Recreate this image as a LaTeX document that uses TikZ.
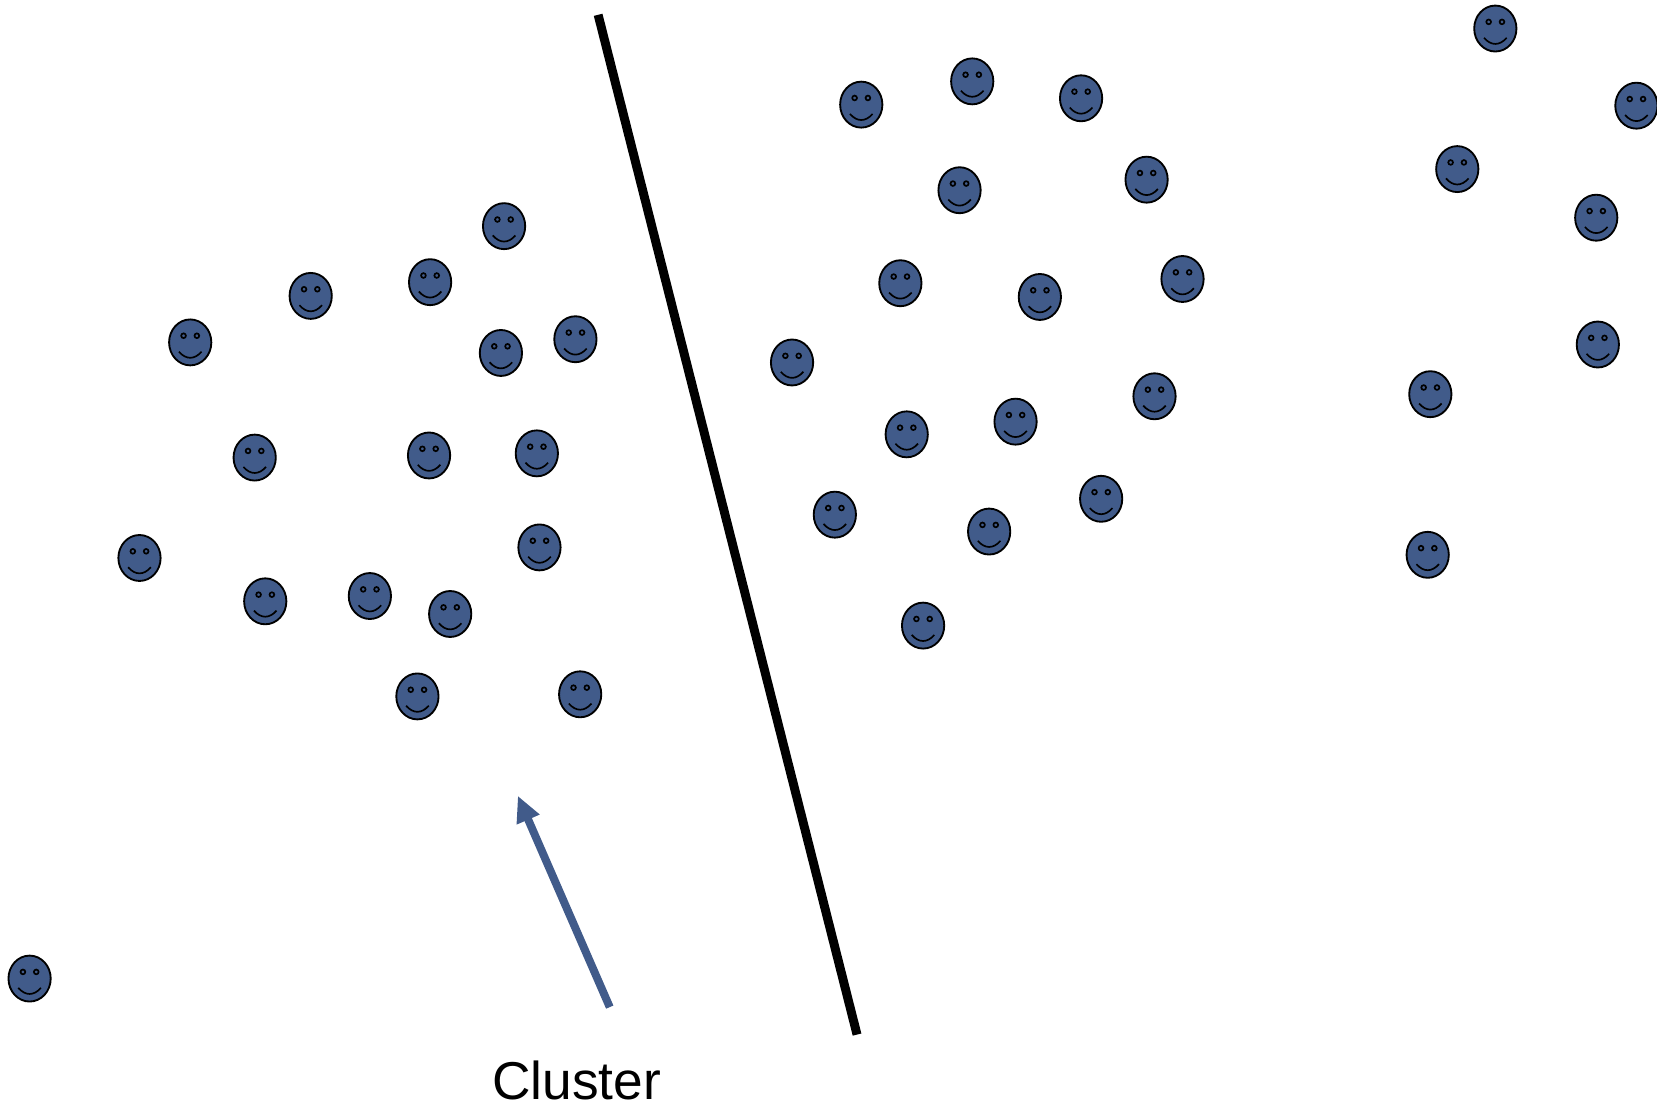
\documentclass[tikz,border=0pt]{standalone}
\usepackage{fontspec}
\setmainfont{Liberation Sans}
\usetikzlibrary{shapes.geometric}
\usetikzlibrary{arrows.meta}
\definecolor{faceblue}{HTML}{415B8A}

\begin{document}
\begin{tikzpicture}[x=0.02cm,y=-0.02cm,>={Triangle[length=14pt,width=12.5pt]},
	       face/.style={ellipse, fill = faceblue, draw, line width = 1pt, inner sep = 0pt,
	       minimum width = 0.8cm, minimum height = 0.87cm,
	       path picture={
	         \draw[line width = 0.9pt] ([xshift=-0.126cm,yshift=0.126cm]path picture bounding box.center) circle (0.045cm);
	         \draw[line width = 0.9pt] ([xshift=0.126cm,yshift=0.126cm]path picture bounding box.center) circle (0.045cm);
	         \draw[line width = 0.9pt] ([xshift=-0.214cm,yshift=-0.176cm]path picture bounding box.center)
	           .. controls ([xshift=-0.08cm,yshift=-0.33cm]path picture bounding box.center) and ([xshift=0.08cm,yshift=-0.33cm]path picture bounding box.center)
	           .. ([xshift=0.214cm,yshift=-0.176cm]path picture bounding box.center);
	       }}]

	      \useasboundingbox (0,0) rectangle (1568,1047.2);

	      % left of the line
	      \node[face] at (477,214) (l1) {};
	      \node[face] at (407,267) (l2) {};
	      \node[face] at (294,280) (l3) {};
	      \node[face] at (180,324) (l4) {};
	      \node[face] at (474,334) (l5) {};
	      \node[face] at (544.5,321) (l6) {};
	      \node[face] at (241,433) (l7) {};
	      \node[face] at (406,431) (l8) {};
	      \node[face] at (508,429) (l9) {};
	      \node[face] at (132,528) (l10) {};
	      \node[face] at (510.5,518) (l11) {};
	      \node[face] at (251,569) (l12) {};
	      \node[face] at (350,564) (l13) {};
	      \node[face] at (426,581) (l14) {};
	      \node[face] at (395,659) (l15) {};
	      \node[face] at (549,657) (l16) {};
	      \node[face] at (28,926) (l17) {};

	      % right of the line
	      \node[face] at (815,99) (m1) {};
	      \node[face] at (920,77) (m2) {};
	      \node[face] at (1023,93) (m3) {};
	      \node[face] at (908,180) (m4) {};
	      \node[face] at (1085,170) (m5) {};
	      \node[face] at (852,268) (m6) {};
	      \node[face] at (984,281) (m7) {};
	      \node[face] at (1119,264) (m8) {};
	      \node[face] at (749.5,343) (m9) {};
	      \node[face] at (858,411) (m10) {};
	      \node[face] at (961,399) (m11) {};
	      \node[face] at (1092.5,375) (m12) {};
	      \node[face] at (790,487) (m13) {};
	      \node[face] at (936,503) (m14) {};
	      \node[face] at (1042,472) (m15) {};
	      \node[face] at (873.5,592) (m16) {};

	      % far right
	      \node[face] at (1415,27) (r1) {};
	      \node[face] at (1548.5,100) (r2) {};
	      \node[face] at (1379,160) (r3) {};
	      \node[face] at (1510.5,206) (r4) {};
	      \node[face] at (1512,326) (r5) {};
	      \node[face] at (1353.5,373) (r6) {};
	      \node[face] at (1351,525) (r7) {};

	      \node[font=\fontsize{28.7pt}{34pt}\selectfont, inner sep = 0pt] at (545.5,1022) (cluster) {Cluster};

	      \coordinate (linetop) at (566,14);
	      \coordinate (linebottom) at (811,979);
	      \coordinate (arrowtail) at (577,953);
	      \coordinate (arrowtip) at (490,753);

	      \draw[line width = 4.8pt] (linetop) -- (linebottom);
	      \draw[->,faceblue,line width = 4.3pt] (arrowtail) -- (arrowtip);

	    \end{tikzpicture}
\end{document}
